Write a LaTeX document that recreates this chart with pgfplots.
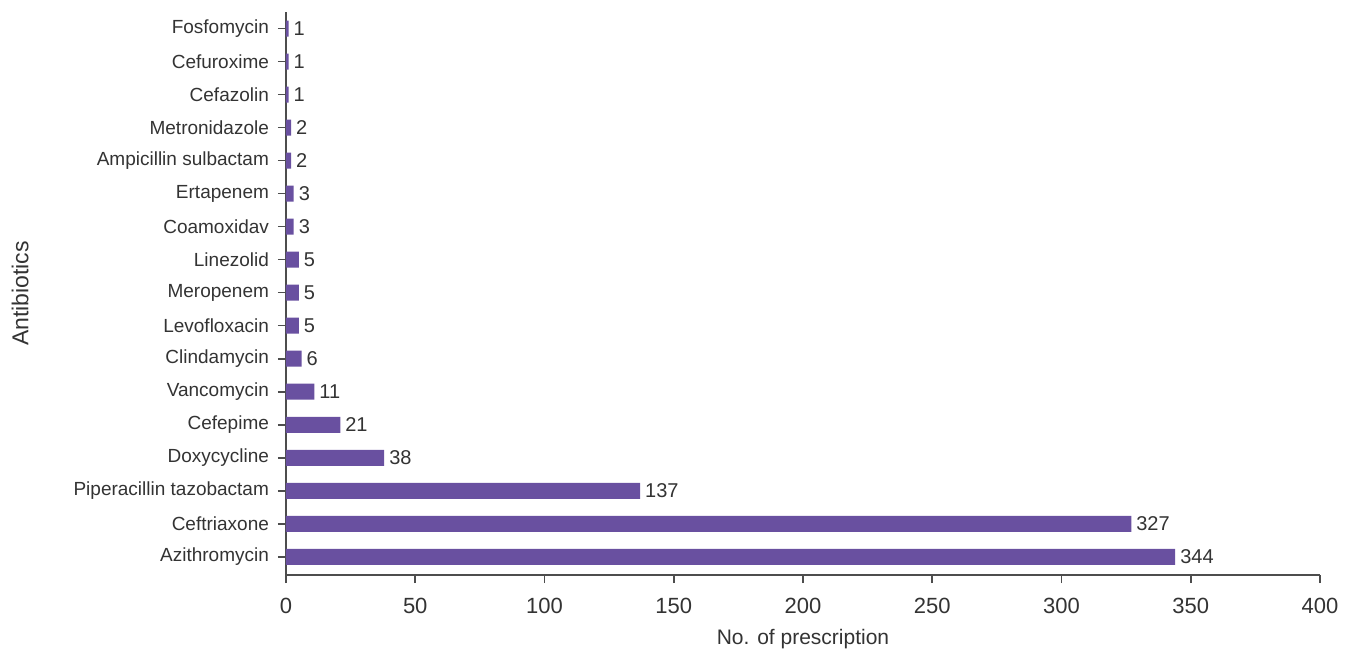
\documentclass[border=0pt]{standalone}
\usepackage{fontspec}
\setmainfont{Liberation Sans}
\usepackage{pgfplots}
\pgfplotsset{compat=1.18}

\definecolor{barpurple}{HTML}{6950A0}
\definecolor{axisgray}{HTML}{4D4D4D}
\definecolor{txt}{HTML}{333333}

\begin{document}
\begin{tikzpicture}
\path[use as bounding box] (-143pt,-37pt) rectangle (532.5pt,287.5pt);
\begin{axis}[
  at={(0,0)}, anchor=south west,
  scale only axis, width=517pt, height=281.5pt,
  xbar, bar width=8pt,
  xmin=0, xmax=400, ymin=-0.55, ymax=16.5,
  axis lines=left, axis line style={axisgray, line width=0.8pt, -},
  xtick={0,50,...,400}, ytick={0,...,16},
  yticklabels={Azithromycin,Ceftriaxone,Piperacillin tazobactam,Doxycycline,Cefepime,Vancomycin,Clindamycin,Levofloxacin,Meropenem,Linezolid,Coamoxidav,Ertapenem,Ampicillin sulbactam,Metronidazole,Cefazolin,Cefuroxime,Fosfomycin},
  tick style={axisgray, line width=0.8pt},
  tick align=outside, major tick length=4pt,
  xtick pos=bottom, ytick pos=left,
  /pgf/number format/assume math mode=true,
  xticklabel style={font=\fontsize{11}{13}\selectfont, text=txt, yshift=-4pt},
  yticklabel style={font=\fontsize{9.5}{11}\selectfont, text=txt, xshift=-1pt},
  xlabel={No. of prescription}, ylabel={Antibiotics},
  xlabel style={font=\fontsize{10.5}{12}\selectfont, text=txt, yshift=-1pt},
  every axis y label/.style={at={(axis description cs:-0.257,0.5)}, rotate=90, anchor=center,
    font=\fontsize{11.5}{13}\selectfont, text=txt},
  nodes near coords,
  nodes near coords style={font=\fontsize{10}{12}\selectfont, text=txt, xshift=-1pt},
  every node near coord/.append style={/pgf/number format/assume math mode=true},
  clip=false,
]
\addplot[fill=barpurple, draw=none] coordinates {
  (344,0) (327,1) (137,2) (38,3) (21,4) (11,5) (6,6) (5,7) (5,8) (5,9)
  (3,10) (3,11) (2,12) (2,13) (1,14) (1,15) (1,16)
};
\end{axis}
\end{tikzpicture}
\end{document}
